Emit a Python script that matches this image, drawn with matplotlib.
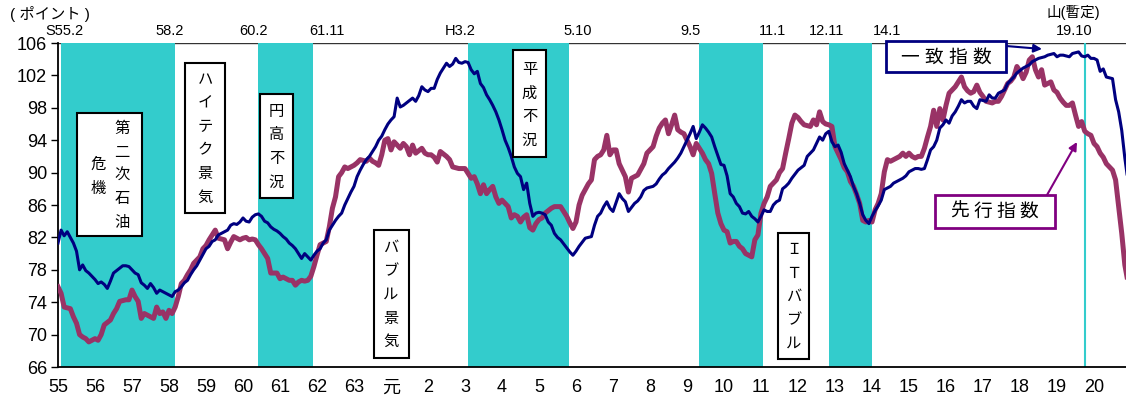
import matplotlib
matplotlib.use('Agg')
import matplotlib.pyplot as plt
import numpy as np
from matplotlib.patches import Rectangle

plt.rcParams['font.family'] = ['Liberation Sans', 'Noto Sans CJK JP']

# 景気動向指数 (CI) 月次 1980.1 - 2008.12
coincident = [
    81.3, 82.9, 82.2, 82.7, 82.0, 81.3, 80.3, 78.0, 78.6, 77.9, 77.6, 77.2,   # S55
    76.8, 76.3, 76.5, 76.2, 75.7, 76.6, 77.6, 77.9, 78.2, 78.5, 78.5, 78.4,   # S56
    78.0, 77.6, 77.4, 76.4, 76.1, 75.7, 76.3, 75.8, 75.1, 75.5, 75.3, 75.1,   # S57
    74.9, 74.7, 75.3, 75.5, 75.9, 76.4, 76.7, 77.4, 78.0, 78.5, 79.2, 79.9,   # S58
    80.6, 80.9, 81.5, 81.7, 82.3, 82.5, 82.7, 82.9, 83.5, 83.7, 83.6, 83.9,   # S59
    84.4, 84.0, 83.9, 84.5, 84.8, 84.9, 84.6, 84.0, 83.8, 83.3, 83.0, 82.8,   # S60
    82.5, 82.1, 81.8, 81.3, 81.0, 80.6, 80.0, 79.4, 80.0, 79.6, 79.2, 79.8,   # S61
    80.3, 80.6, 81.3, 81.7, 82.9, 83.5, 84.1, 84.6, 85.0, 86.0, 86.8, 87.6,   # S62
    88.3, 89.5, 90.3, 91.0, 91.6, 92.0, 92.6, 93.2, 94.0, 94.5, 95.3, 96.0,   # S63
    96.5, 96.9, 99.2, 98.1, 98.3, 98.6, 98.9, 99.2, 98.8, 99.5, 100.6, 100.2, # H1
    100.0, 100.4, 100.4, 101.5, 102.3, 102.9, 103.5, 103.1, 103.4, 104.1, 103.6, 103.5,
    103.7, 103.6, 102.7, 102.2, 102.5, 101.0, 100.5, 99.6, 99.0, 98.3, 97.5, 96.5,
    95.3, 94.0, 93.1, 92.0, 90.7, 89.9, 89.5, 87.9, 88.7, 86.2, 84.6, 85.0,
    85.1, 85.0, 84.8, 83.9, 83.5, 82.5, 82.0, 81.7, 81.2, 80.7, 80.2, 79.8,
    80.3, 80.9, 81.4, 81.9, 82.0, 82.1, 83.5, 84.6, 85.0, 85.8, 86.4, 85.6,
    85.2, 86.3, 87.4, 86.8, 86.4, 85.2, 85.7, 86.2, 86.5, 87.0, 87.8, 88.1,
    88.2, 88.3, 88.6, 89.2, 89.7, 90.0, 90.5, 90.9, 91.3, 91.8, 92.4, 93.2,
    94.0, 94.8, 95.7, 94.2, 95.0, 95.9, 95.5, 95.0, 94.4, 93.2, 92.1, 91.0,
    90.9, 89.6, 87.4, 87.0, 86.2, 85.8, 85.0, 84.9, 85.2, 84.6, 84.3, 83.9,
    84.6, 85.4, 85.2, 85.2, 86.0, 86.4, 86.6, 88.0, 88.3, 88.7, 89.3, 89.8,
    90.3, 90.6, 90.9, 92.0, 92.4, 92.8, 93.6, 94.4, 94.0, 94.8, 95.1, 93.8,
    93.2, 93.4, 92.5, 91.1, 90.3, 89.5, 88.3, 87.4, 86.2, 84.8, 84.1, 83.7,
    84.6, 85.3, 85.9, 86.6, 87.9, 88.1, 88.3, 88.7, 88.9, 89.1, 89.3, 89.6,
    90.1, 90.3, 90.5, 90.5, 90.4, 90.5, 91.6, 92.8, 93.2, 94.0, 95.5, 95.9,
    96.5, 96.1, 97.0, 97.5, 98.2, 99.0, 98.6, 98.8, 98.8, 98.2, 97.9, 99.0,
    98.9, 98.8, 99.6, 99.2, 99.2, 99.8, 100.0, 100.2, 101.0, 101.4, 101.8, 102.3,
    102.6, 102.9, 103.1, 103.3, 103.7, 103.9, 104.1, 104.2, 104.3, 104.5, 104.6, 104.7,
    104.3, 104.5, 104.5, 104.4, 104.3, 104.7, 104.8, 104.9, 104.4, 104.3, 104.5, 104.1,
    104.1, 103.9, 102.5, 102.8, 101.8, 101.7, 101.6, 99.0, 97.5, 95.2, 91.8, 89.0,
]
leading = [
    75.9, 75.1, 73.4, 73.3, 73.2, 72.2, 71.4, 70.0, 69.7, 69.5, 69.1, 69.3,
    69.5, 69.3, 70.0, 71.2, 71.5, 71.8, 72.6, 73.2, 74.1, 74.2, 74.3, 74.3,
    75.5, 74.7, 74.1, 72.0, 72.6, 72.4, 72.2, 72.0, 73.4, 72.6, 72.8, 72.0,
    73.0, 72.6, 73.4, 74.7, 76.3, 76.7, 77.4, 78.0, 78.8, 79.2, 79.6, 80.6,
    81.0, 81.7, 82.3, 82.9, 81.9, 81.8, 81.7, 80.6, 81.4, 82.1, 81.9, 81.7,
    81.9, 82.0, 81.7, 81.8, 81.7, 81.1, 80.6, 80.0, 79.4, 77.6, 77.6, 77.6,
    76.9, 77.1, 76.9, 76.7, 76.7, 76.1, 76.5, 76.7, 76.6, 76.7, 77.2, 78.4,
    79.8, 81.1, 81.3, 81.5, 83.3, 85.6, 87.0, 89.5, 90.0, 90.7, 90.5, 90.7,
    90.9, 91.2, 91.6, 91.5, 91.4, 91.8, 91.4, 91.2, 90.9, 92.2, 94.0, 94.2,
    92.8, 93.8, 93.4, 93.0, 93.6, 93.2, 92.2, 93.4, 92.4, 92.7, 93.0, 92.4,
    92.2, 92.2, 91.9, 91.3, 92.6, 92.3, 92.0, 91.6, 90.7, 90.6, 90.5, 90.5,
    90.5, 89.9, 89.3, 89.5, 88.6, 87.4, 88.5, 87.4, 87.9, 88.3, 87.0, 86.2,
    86.6, 86.2, 85.8, 84.4, 84.8, 84.6, 83.9, 84.5, 84.8, 83.2, 82.9, 83.7,
    84.2, 84.4, 85.0, 85.3, 85.6, 85.8, 85.8, 85.8, 85.2, 84.6, 83.8, 83.1,
    83.9, 86.0, 87.2, 87.9, 88.6, 89.1, 91.6, 92.0, 92.2, 92.8, 94.6, 92.2,
    92.8, 92.8, 91.1, 90.3, 89.5, 87.6, 89.3, 89.5, 89.7, 90.4, 91.1, 92.4,
    92.8, 93.2, 94.5, 95.5, 96.1, 96.5, 94.8, 95.9, 97.1, 95.3, 95.0, 94.8,
    94.0, 93.2, 92.2, 93.6, 93.0, 92.4, 91.6, 91.1, 89.9, 87.4, 85.0, 83.7,
    82.9, 82.7, 81.3, 81.5, 81.5, 80.9, 80.6, 80.0, 79.8, 79.6, 81.7, 82.3,
    85.0, 86.2, 87.0, 88.3, 88.7, 89.1, 90.0, 90.5, 92.4, 94.2, 96.1, 97.1,
    96.8, 96.3, 95.9, 95.8, 95.7, 96.5, 95.9, 97.5, 96.3, 96.0, 95.9, 95.7,
    93.2, 92.4, 91.6, 90.6, 90.1, 88.9, 88.3, 87.3, 86.2, 84.1, 83.9, 84.1,
    83.9, 85.4, 86.2, 87.4, 90.1, 91.6, 91.4, 91.6, 91.8, 92.0, 92.4, 92.0,
    92.4, 92.0, 91.8, 92.0, 92.0, 93.0, 94.4, 95.7, 97.7, 95.7, 97.9, 96.5,
    98.3, 99.8, 100.2, 100.6, 101.2, 101.8, 100.6, 100.1, 99.8, 100.0, 100.8, 99.9,
    99.4, 98.8, 98.7, 98.6, 98.8, 98.8, 99.4, 100.2, 101.0, 101.3, 101.8, 103.1,
    102.5, 101.6, 102.4, 103.9, 104.3, 102.7, 101.8, 102.7, 100.8, 101.0, 101.2, 100.2,
    99.9, 99.2, 98.7, 98.3, 98.3, 98.6, 97.1, 95.7, 96.3, 95.1, 94.8, 94.6,
    93.6, 93.2, 92.4, 91.9, 91.1, 90.7, 90.3, 89.1, 85.8, 82.5, 78.6, 76.5,
]
t = 1980 + np.arange(len(coincident)) / 12

# 景気後退期 (山 -> 谷)
rec_start = [1980 + 1/12, 1985 + 5/12, 1991 + 1/12, 1997 + 4/12, 2000 + 10/12]
rec_end = [1983 + 1.9/12, 1986 + 10.6/12, 1993 + 9.7/12, 1999 + 0.5/12, 2002 + 0/12]
peak_2007 = 2007 + 9/12

years = np.arange(1980, 2009)
year_labels = ['55', '56', '57', '58', '59', '60', '61', '62', '63', '元'] + \
              [str(i) for i in range(2, 21)]

W, H = 1126, 409
fig = plt.figure(figsize=(W / 100, H / 100), dpi=100)
ax = fig.add_axes([58 / W, 1 - 367 / H, 1 - 58 / W, (367 - 43) / H])

for s, e in zip(rec_start, rec_end):
    ax.axvspan(s, e, color='#33CCCC', lw=0, zorder=1)
ax.axvline(peak_2007, color='#33CCCC', lw=1.5, zorder=1)
ax.axhline(106, color='#333333', lw=1, zorder=0.5)

ax.plot(t, leading, color='#993366', lw=3.6, zorder=3, solid_joinstyle='round')
ax.plot(t, coincident, color='#000080', lw=2.2, zorder=4, solid_joinstyle='round')

ax.set_xlim(1980, 1980 + (W - 58) / 37)
ax.set_ylim(66, 106)
ax.set_yticks(np.arange(66, 107, 4))
ax.set_xticks(years)
ax.set_xticklabels(year_labels)
ax.tick_params(axis='y', direction='out', length=5, width=1, pad=3, labelsize=13)
ax.tick_params(axis='x', length=0, pad=9, labelsize=13)
for side in ['top', 'right']:
    ax.spines[side].set_visible(False)
ax.spines['left'].set_linewidth(1.3)
ax.spines['bottom'].set_linewidth(1.3)


def px(x, y):
    return x / W, 1 - y / H


# 山・谷の日付
top_labels = [('S55.2', 64), ('58.2', 170), ('60.2', 254), ('61.11', 327),
              ('H3.2', 460), ('5.10', 578), ('9.5', 691), ('11.1', 773),
              ('12.11', 827), ('14.1', 887), ('19.10', 1074)]
for s, x in top_labels:
    fig.text(*px(x, 31), s, ha='center', va='center', fontsize=10.5)
fig.text(*px(1073, 12), '山(暫定)', ha='center', va='center', fontsize=10.5)
fig.text(*px(50, 14), '( ポイント )', ha='center', va='center', fontsize=11)


def box(x0, y0, x1, y1, ec='black', lw=1.5):
    fig.add_artist(Rectangle(px(x0, y1), (x1 - x0) / W, (y1 - y0) / H,
                             transform=fig.transFigure, facecolor='white',
                             edgecolor=ec, lw=lw, zorder=5))


def vtext(x, y0, s, step=23.5, size=11):
    for i, ch in enumerate(s):
        fig.text(*px(x, y0 + i * step), ch, ha='center', va='center',
                 fontsize=size, zorder=6)


def htext(x0, y, s, step=24, size=13.5):
    for i, ch in enumerate(s):
        fig.text(*px(x0 + i * step, y), ch, ha='center', va='center',
                 fontsize=size, zorder=6)


box(77, 113, 142, 236)
vtext(122, 129, '第二次石油')
vtext(98, 165, '危機')
box(185, 63, 225, 213)
vtext(205, 80, 'ハイテク景気')
box(260, 94, 293, 198)
vtext(276.5, 112, '円高不況')
box(374, 230, 409, 358)
vtext(391, 248, 'バブル景気')
box(513, 50, 546, 157)
vtext(529.5, 70, '平成不況')
box(778, 233, 809, 359)
vtext(793.5, 250, 'ＩＴバブル')

box(886, 41, 1006, 72, ec='#000080', lw=2)
htext(910, 58, '一致指数', step=24)
box(935, 195, 1055, 228, ec='#800080', lw=2)
htext(960, 212, '先行指数', step=23)

ax.annotate('', xy=(1042, H - 49), xytext=(1006, H - 46),
            xycoords='figure pixels', textcoords='figure pixels',
            annotation_clip=False,
            arrowprops=dict(arrowstyle='-|>', color='#000080', lw=1.5,
                            mutation_scale=12, shrinkA=0, shrinkB=0))
ax.annotate('', xy=(1077, H - 142), xytext=(1047, H - 195),
            xycoords='figure pixels', textcoords='figure pixels',
            annotation_clip=False,
            arrowprops=dict(arrowstyle='-|>', color='#800080', lw=1.5,
                            mutation_scale=12, shrinkA=0, shrinkB=0))

fig.savefig('out.png', dpi=100)
